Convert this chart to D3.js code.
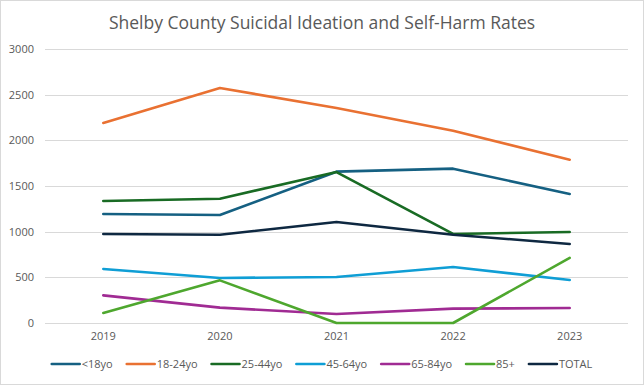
<!DOCTYPE html>
<html>
<head>
<meta charset="utf-8">
<script src="https://cdn.jsdelivr.net/npm/d3@7"></script>
<style>
  body { margin: 0; background: #fff; }
  svg text { font-family: "Open Sans", "Liberation Sans", sans-serif; fill: #595959; }
</style>
</head>
<body>
<div id="chart"></div>
<script>
// values
const years = ["2019", "2020", "2021", "2022", "2023"];
const seriesNames = ["<18yo", "18-24yo", "25-44yo", "45-64yo", "65-84yo", "85+", "TOTAL"];
const under18 = [1194, 1183, 1657, 1690, 1413];
const age18to24 = [2190, 2573, 2354, 2106, 1788];
const age25to44 = [1336, 1361, 1653, 975, 996];
const age45to64 = [591, 493, 504, 613, 471];
const age65to84 = [302, 168, 99, 157, 164];
const age85plus = [110, 467, 0, 0, 712];
const total = [975, 967, 1106, 967, 865];
const yTicks = [0, 500, 1000, 1500, 2000, 2500, 3000];

const COLORS = ["#156082", "#E97132", "#196B24", "#0F9ED5", "#A02B93", "#4EA72E", "#0E2841"];
const allValues = [under18, age18to24, age25to44, age45to64, age65to84, age85plus, total];

const W = 644, H = 385;
const margin = { top: 49, right: 16, bottom: 62, left: 45 };

const svg = d3.select("#chart").append("svg")
    .attr("width", W)
    .attr("height", H);

// outer chart border
svg.append("rect")
    .attr("x", 0.5).attr("y", 0.5)
    .attr("width", W - 1).attr("height", H - 1)
    .attr("fill", "#fff")
    .attr("stroke", "#d9d9d9");

svg.append("text")
    .attr("x", W / 2)
    .attr("y", 29)
    .attr("text-anchor", "middle")
    .style("font-size", "17.5px")
    .text("Shelby County Suicidal Ideation and Self-Harm Rates");

const x = d3.scaleBand()
    .domain(years)
    .range([margin.left, W - margin.right]);

const y = d3.scaleLinear()
    .domain([0, 3000])
    .range([H - margin.bottom, margin.top]);

// gridlines
svg.append("g")
    .selectAll("line")
    .data(yTicks)
    .join("line")
    .attr("x1", margin.left)
    .attr("x2", W - margin.right)
    .attr("y1", d => Math.round(y(d)) + 0.5)
    .attr("y2", d => Math.round(y(d)) + 0.5)
    .attr("stroke", "#d9d9d9");

// y axis labels
const yAxis = svg.append("g")
    .attr("transform", `translate(${margin.left - 11}, 0)`)
    .call(d3.axisLeft(y).tickValues(yTicks).tickFormat(d3.format("d")).tickSize(0).tickPadding(0));
yAxis.select(".domain").remove();
yAxis.selectAll("text").style("font-size", "11px").attr("fill", "#595959");

// x axis labels
const xAxis = svg.append("g")
    .attr("transform", `translate(0, ${H - margin.bottom + 9})`)
    .call(d3.axisBottom(x).tickSize(0).tickPadding(0));
xAxis.select(".domain").remove();
xAxis.selectAll("text").style("font-size", "11px").attr("fill", "#595959");

const line = d3.line()
    .x((d, i) => x(years[i]) + x.bandwidth() / 2)
    .y(d => y(d));

svg.append("g")
    .selectAll("path")
    .data(allValues)
    .join("path")
    .attr("d", d => line(d))
    .attr("fill", "none")
    .attr("stroke", (d, i) => COLORS[i])
    .attr("stroke-width", 2.6)
    .attr("stroke-linejoin", "round")
    .attr("stroke-linecap", "round");

// legend, centred under the plot
const legend = svg.append("g");
const swatch = 28, textGap = 2, itemGap = 14;
let lx = 0;
seriesNames.forEach((name, i) => {
    const item = legend.append("g").attr("transform", `translate(${lx}, 0)`);
    item.append("line")
        .attr("x1", 0).attr("x2", swatch)
        .attr("y1", 0).attr("y2", 0)
        .attr("stroke", COLORS[i])
        .attr("stroke-width", 2.6)
        .attr("stroke-linecap", "round");
    const t = item.append("text")
        .attr("x", swatch + textGap)
        .attr("y", 4)
        .style("font-size", "11px")
        .text(name);
    lx += swatch + textGap + t.node().getComputedTextLength() + itemGap;
});
lx -= itemGap;
legend.attr("transform", `translate(${(W - lx) / 2}, 364)`);
</script>
</body>
</html>
